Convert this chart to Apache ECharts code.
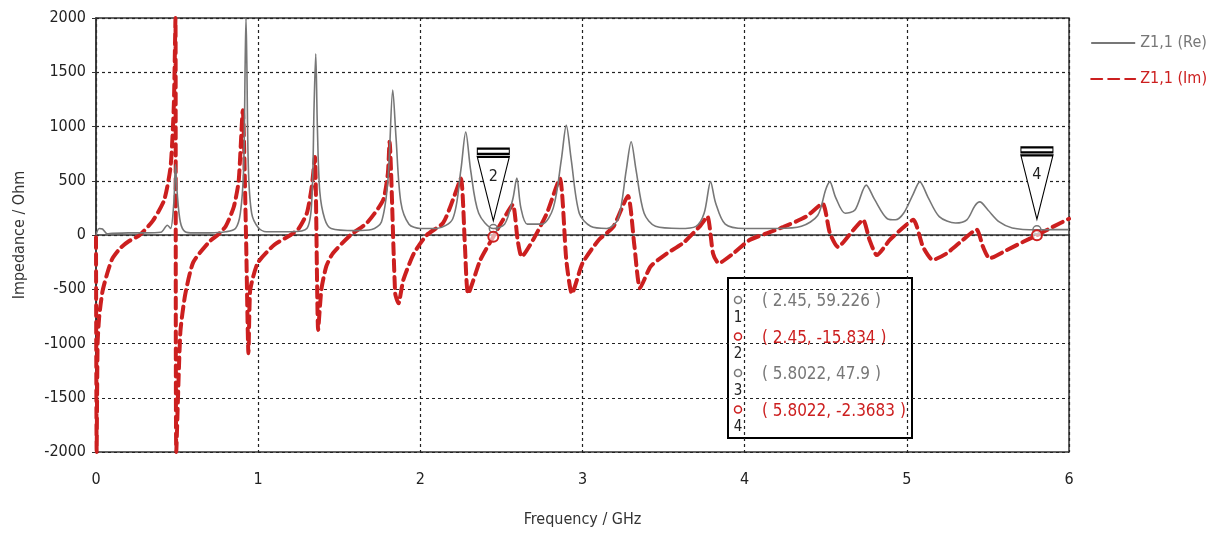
<!DOCTYPE html>
<html>
<head>
<meta charset="utf-8">
<script src="https://cdn.jsdelivr.net/npm/echarts@6/dist/echarts.min.js"></script>
<style>
html, body { margin: 0; padding: 0; background: #fff; }
#chart { width: 1224px; height: 533px; }
</style>
</head>
<body>
<div id="chart"></div>
<script>
// Z1,1 real part (grey)
var reFreq = [0, 0.02, 0.04, 0.07, 0.1, 0.2, 0.3, 0.4, 0.44, 0.46, 0.48, 0.49, 0.5, 0.52, 0.55, 0.6, 0.7, 0.8, 0.86, 0.89,
	0.91, 0.92, 0.925, 0.93, 0.94, 0.96, 1.0, 1.05, 1.2, 1.3, 1.33, 1.345, 1.355, 1.365, 1.38, 1.41, 1.45, 1.6, 1.7, 1.76,
	1.8, 1.83, 1.85, 1.88, 1.93, 2.0, 2.1, 2.2, 2.25, 2.28, 2.31, 2.36, 2.45, 2.52, 2.57, 2.595, 2.62, 2.66, 2.75, 2.82,
	2.87, 2.9, 2.93, 2.98, 3.05, 3.15, 3.22, 3.27, 3.3, 3.33, 3.38, 3.45, 3.6, 3.7, 3.75, 3.79, 3.82, 3.88, 4.0, 4.2,
	4.35, 4.45, 4.5, 4.525, 4.56, 4.62, 4.68, 4.75, 4.8, 4.88, 4.93, 4.98, 5.04, 5.08, 5.13, 5.2, 5.3, 5.37, 5.42, 5.45,
	5.5, 5.57, 5.65, 5.8022, 5.9, 6.0];
var reVal = [0, 60, 55, 10, 15, 20, 20, 25, 90, 60, 300, 650, 400, 120, 30, 20, 20, 30, 60, 200,
	600, 1600, 2000, 1600, 600, 200, 70, 30, 30, 60, 300, 1200, 1670, 1000, 400, 150, 60, 40, 50, 120,
	500, 1336, 900, 300, 100, 60, 60, 150, 600, 950, 600, 200, 59.226, 100, 330, 525, 250, 100, 100, 250,
	700, 1010, 700, 200, 80, 60, 150, 600, 860, 600, 200, 80, 60, 80, 200, 490, 300, 100, 60, 60,
	80, 180, 420, 490, 350, 200, 230, 460, 330, 150, 140, 200, 380, 490, 350, 170, 110, 140, 270, 305,
	230, 120, 65, 47.9, 50, 50];

// Z1,1 imaginary part (red dashed)
var imFreq = [0, 0.004, 0.01, 0.02, 0.04, 0.07, 0.1, 0.15, 0.2, 0.27, 0.35, 0.42, 0.46, 0.48, 0.49, 0.495, 0.52, 0.55, 0.6, 0.7,
	0.75, 0.8, 0.85, 0.88, 0.905, 0.925, 0.94, 0.95, 0.97, 1.0, 1.1, 1.2, 1.25, 1.3, 1.33, 1.35, 1.37, 1.39, 1.42, 1.46,
	1.57, 1.67, 1.77, 1.8, 1.81, 1.845, 1.865, 1.895, 1.96, 2.04, 2.14, 2.2, 2.25, 2.275, 2.295, 2.37, 2.45, 2.51, 2.57, 2.6,
	2.625, 2.695, 2.78, 2.86, 2.9, 2.935, 3.0, 3.1, 3.19, 3.28, 3.32, 3.355, 3.42, 3.52, 3.62, 3.72, 3.77, 3.805, 3.84, 3.93,
	4.03, 4.135, 4.24, 4.38, 4.48, 4.525, 4.575, 4.67, 4.73, 4.77, 4.815, 4.895, 4.96, 5.04, 5.1, 5.16, 5.245, 5.345, 5.43, 5.47,
	5.51, 5.615, 5.715, 5.8022, 5.9, 6.0];
var imVal = [-20, -2000, -1000, -750, -520, -350, -220, -120, -60, 0, 130, 320, 630, 1200, 2000, -2000, -900, -550, -250, -60,
	0, 80, 260, 500, 1150, 0, -1090, -520, -380, -250, -90, 0, 60, 200, 440, 720, -876, -500, -290, -170,
	0, 110, 320, 570, 860, -540, -630, -415, -170, 0, 110, 320, 520, -100, -540, -230, -15.834, 140, 280, -46,
	-200, -46, 200, 520, -230, -540, -260, -46, 75, 360, -100, -490, -290, -170, -75, 75, 170, -170, -260, -170,
	-46, 15, 75, 170, 290, 20, -110, 46, 140, -46, -185, -46, 46, 140, -110, -230, -170, -46, 50, -110,
	-215, -140, -65, -2.3683, 75, 150];

// markers
var markerFreq = [2.45, 5.8022];
var markerRe = [59.226, 47.9];
var markerIm = [-15.834, -2.3683];

var xTicks = [0, 1, 2, 3, 4, 5, 6];
var yTicks = [-2000, -1500, -1000, -500, 0, 500, 1000, 1500, 2000];

var FONT = "'DejaVu Sans Condensed', 'Liberation Sans Narrow', 'Liberation Sans', sans-serif";
var GREY = '#777777';
var RED = '#cc1f1f';

function pairs(xs, ys) {
	var out = [];
	for (var i = 0; i < xs.length; i++) {
		out.push([xs[i], ys[i]]);
	}
	return out;
}

var flagPath = 'path://M0,0 L32,0 L32,5 L0,5 Z M0,8 L32,8 L16,70 Z';

var reMarks = [];
var imMarks = [];
for (var i = 0; i < markerFreq.length; i++) {
	reMarks.push({
		coord : [ markerFreq[i], markerRe[i] ],
		symbol : 'circle',
		symbolSize : 8,
		itemStyle : { color : 'rgba(255,255,255,0)', borderColor : GREY, borderWidth : 1.5 },
		label : { show : false }
	});
	imMarks.push({
		coord : [ markerFreq[i], markerIm[i] ],
		symbol : flagPath,
		symbolSize : [ 32, 72 ],
		symbolOffset : [ 0, -52 ],
		itemStyle : { color : '#fff', borderColor : '#000', borderWidth : 1.5 },
		label : {
			show : true,
			formatter : String(2 * i + 2),
			offset : [ 0, -8 ],
			color : '#222',
			fontSize : 16,
			fontFamily : FONT
		}
	});
	imMarks.push({
		coord : [ markerFreq[i], markerIm[i] ],
		symbol : 'circle',
		symbolSize : 10,
		itemStyle : { color : 'rgba(255,255,255,0.6)', borderColor : RED, borderWidth : 2 },
		label : { show : false }
	});
}

// read-out box (positions are layout only, values come from the marker arrays)
var boxLeft = 727, boxTop = 277;
var boxChildren = [ {
	type : 'rect',
	shape : { x : 0, y : 0, width : 184, height : 160 },
	style : { fill : '#fff', stroke : '#000', lineWidth : 2 }
} ];
var rows = [];
for (var j = 0; j < markerFreq.length; j++) {
	rows.push({ text : '( ' + markerFreq[j] + ', ' + markerRe[j] + ' )', color : GREY });
	rows.push({ text : '( ' + markerFreq[j] + ', ' + markerIm[j] + ' )', color : RED });
}
for (var k = 0; k < rows.length; k++) {
	var cy = 22 + k * 36.5;
	boxChildren.push({
		type : 'circle',
		shape : { cx : 10, cy : cy, r : 3.5 },
		style : { fill : '#fff', stroke : rows[k].color, lineWidth : 1.5 }
	});
	boxChildren.push({
		type : 'text',
		x : 10, y : cy + 18,
		style : { text : String(k + 1), fill : '#222', font : '15px ' + FONT, align : 'center', verticalAlign : 'middle' }
	});
	boxChildren.push({
		type : 'text',
		x : 34, y : cy + 2,
		style : { text : rows[k].text, fill : rows[k].color, font : '17px ' + FONT, verticalAlign : 'middle' }
	});
}

var option = {
	backgroundColor : '#fff',
	animation : false,
	textStyle : { fontFamily : FONT },
	grid : {
		left : 96,
		right : 155,
		top : 18,
		bottom : 81,
		show : true,
		borderColor : '#333',
		borderWidth : 1.5,
		backgroundColor : '#fff'
	},
	legend : {
		orient : 'vertical',
		right : 12,
		top : 30,
		itemWidth : 44,
		itemHeight : 14,
		itemGap : 20,
		itemStyle : { opacity : 0 },
		textStyle : { fontSize : 16, fontFamily : FONT },
		data : [ {
			name : 'Z1,1 (Re)',
			textStyle : { color : GREY }
		}, {
			name : 'Z1,1 (Im)',
			textStyle : { color : RED }
		} ]
	},
	xAxis : {
		type : 'value',
		min : 0,
		max : 6,
		interval : 1,
		name : 'Frequency / GHz',
		nameLocation : 'middle',
		nameGap : 60,
		nameTextStyle : { fontSize : 16, color : '#333', fontFamily : FONT },
		axisLine : { show : true, lineStyle : { color : '#333', width : 1.5 } },
		axisTick : { show : true, inside : false, length : 5, lineStyle : { color : '#333' } },
		axisLabel : {
			fontSize : 16, color : '#222', margin : 20, fontFamily : FONT,
			showMinLabel : true, showMaxLabel : true,
			formatter : function(v) { return xTicks.indexOf(v) >= 0 ? String(v) : ''; }
		},
		splitLine : { show : true, lineStyle : { color : '#222', type : [ 3, 3 ], width : 1.2 } }
	},
	yAxis : {
		type : 'value',
		min : -2000,
		max : 2000,
		interval : 500,
		name : 'Impedance / Ohm',
		nameLocation : 'middle',
		nameGap : 68,
		nameRotate : 90,
		nameTextStyle : { fontSize : 16, color : '#333', fontFamily : FONT },
		axisLine : { show : true, lineStyle : { color : '#333', width : 1.5 } },
		axisTick : { show : true, length : 4, lineStyle : { color : '#333' } },
		axisLabel : {
			fontSize : 16, color : '#222', margin : 10, fontFamily : FONT,
			showMinLabel : true, showMaxLabel : true,
			formatter : function(v) { return yTicks.indexOf(v) >= 0 ? String(v) : ''; }
		},
		splitLine : { show : true, lineStyle : { color : '#222', type : [ 3, 3 ], width : 1.2 } }
	},
	graphic : [ {
		type : 'group',
		left : boxLeft,
		top : boxTop,
		z : 100,
		children : boxChildren
	} ],
	series : [ {
		name : 'Z1,1 (Re)',
		type : 'line',
		data : pairs(reFreq, reVal),
		showSymbol : false,
		symbol : 'none',
		smooth : 0.3,
		clip : true,
		z : 3,
		color : GREY,
		lineStyle : { color : GREY, width : 1.6 },
		markPoint : { data : reMarks, z : 4 }
	}, {
		name : 'Z1,1 (Im)',
		type : 'line',
		data : pairs(imFreq, imVal),
		showSymbol : false,
		symbol : 'none',
		smooth : 0.2,
		clip : true,
		z : 2,
		color : RED,
		lineStyle : { color : RED, width : 4, type : [ 11, 6 ], cap : 'round' },
		markPoint : { data : imMarks, z : 5 }
	} ]
};

var myChart = echarts.init(document.getElementById('chart'));
myChart.setOption(option);
</script>
</body>
</html>
